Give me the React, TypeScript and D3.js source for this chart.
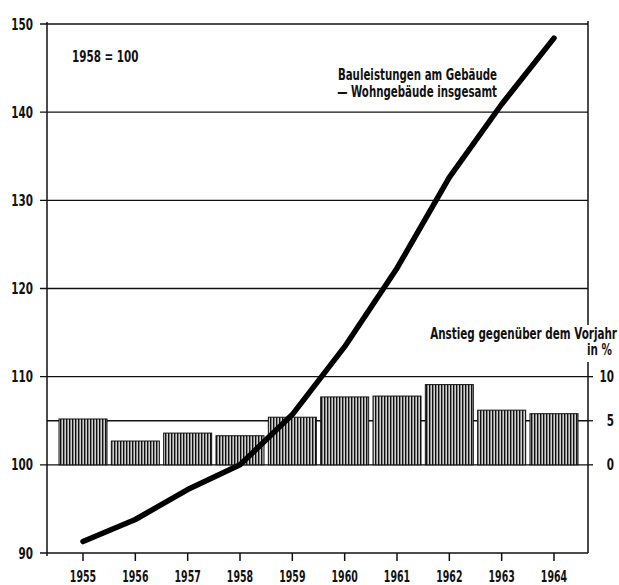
import React from "react";
import * as d3 from "d3";

const years = [1955, 1956, 1957, 1958, 1959, 1960, 1961, 1962, 1963, 1964];
const indexValues = [91.3, 93.8, 97.2, 100, 105.7, 113.4, 122.3, 132.6, 140.9, 148.4];
const pctValues = [5.2, 2.7, 3.6, 3.3, 5.4, 7.7, 7.8, 9.1, 6.2, 5.8];
const leftTicks = [90, 100, 110, 120, 130, 140, 150];
const rightTicks = [0, 5, 10];
const gridValues = [100, 105, 110, 120, 130, 140, 150];

const FONT = "'Liberation Sans Narrow', 'DejaVu Sans Condensed', 'Arial Narrow', sans-serif";

function T({ x, y, anchor = "start", size = 15, sx = 0.77, children }: any) {
  return (
    <text transform={`translate(${x},${y}) scale(${sx},1)`} textAnchor={anchor} fontSize={size} fill="#111">
      {children}
    </text>
  );
}

export default function App() {
  const W = 619, H = 585;
  const axL = 47, axR = 588;
  const y = d3.scaleLinear().domain([90, 150]).range([553, 24]);
  const yP = d3.scaleLinear().domain([0, 10]).range([y(100), y(110)]);
  const x = d3.scaleLinear().domain([1955, 1964]).range([83, 554]);
  const barW = 48;
  const line = d3.line<number>().x((_, i) => x(years[i])).y((d) => y(d)).curve(d3.curveLinear);

  return (
    <svg width={W} height={H} style={{ position: "absolute", left: 0, top: 0, background: "#fff" }}
      fontFamily={FONT} fontWeight="bold">
      <defs>
        <pattern id="stripes" width={3} height={4} patternUnits="userSpaceOnUse">
          <rect x={0} y={0} width={3} height={4} fill="#d0d0d0" />
          <rect x={0} y={0} width={1.4} height={4} fill="#111" />
        </pattern>
      </defs>
      {gridValues.map((v) => (
        <line key={v} x1={v === 105 ? axL : 40} x2={axR} y1={y(v)} y2={y(v)} stroke="#111" strokeWidth={1.3} />
      ))}
      {years.map((yr, i) => (
        <rect key={yr} x={x(yr) - barW / 2} width={barW} y={yP(pctValues[i])}
          height={yP(0) - yP(pctValues[i])} fill="url(#stripes)" stroke="#111" strokeWidth={1} />
      ))}
      <line x1={axL} x2={axL} y1={22} y2={556} stroke="#111" strokeWidth={1.5} />
      <line x1={40} x2={axR} y1={y(90)} y2={y(90)} stroke="#111" strokeWidth={1.5} />
      <line x1={axR} x2={axR} y1={21} y2={325} stroke="#111" strokeWidth={1.5} />
      <line x1={axR} x2={axR} y1={362} y2={553} stroke="#111" strokeWidth={1.5} />
      {leftTicks.map((t) => (
        <T key={t} x={33} y={y(t) + 5.5} anchor="end">{t}</T>
      ))}
      {rightTicks.map((t) => (
        <g key={t}>
          <line x1={axR} x2={axR + 5} y1={yP(t)} y2={yP(t)} stroke="#111" strokeWidth={1.3} />
          <T x={614} y={yP(t) + 5.5} anchor="end">{t}</T>
        </g>
      ))}
      {years.map((yr) => (
        <g key={yr}>
          <line x1={x(yr)} x2={x(yr)} y1={y(90)} y2={y(90) + 8} stroke="#111" strokeWidth={1.5} />
          <T x={x(yr)} y={582} anchor="middle" sx={0.7}>{yr}</T>
        </g>
      ))}
      <path d={line(indexValues) || ""} fill="none" stroke="#000" strokeWidth={5.5} strokeLinecap="round" strokeLinejoin="round" />
      <T x={72} y={62}>1958 = 100</T>
      <T x={497} y={80} anchor="end" sx={0.76}>Bauleistungen am Gebäude</T>
      <T x={497} y={97} anchor="end" sx={0.76}>— Wohngebäude insgesamt</T>
      <T x={617} y={339} anchor="end">Anstieg gegenüber dem Vorjahr</T>
      <T x={612} y={355} anchor="end">in %</T>
    </svg>
  );
}
